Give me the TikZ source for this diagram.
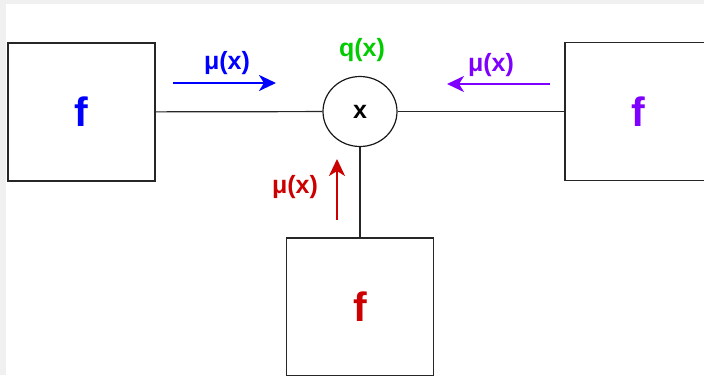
\documentclass[tikz,border=0pt]{standalone}
\usepackage{fontspec}
\setmainfont{Liberation Sans}
\usetikzlibrary{shapes.geometric,arrows.meta}
\definecolor{fblue}{HTML}{0000FF}
\definecolor{fpurple}{HTML}{7F00FF}
\definecolor{fgreen}{HTML}{00CC00}
\definecolor{fred}{HTML}{CC0000}
\definecolor{bggray}{HTML}{F0F0F0}
\tikzset{
  factor/.style={draw=black!85, line width=1.3pt, fill=white, minimum width=147pt, minimum height=138pt, inner sep=0pt, font=\fontsize{41}{41}\selectfont\bfseries},
  var/.style={ellipse, draw=black!90, line width=1.2pt, fill=white, minimum width=74pt, minimum height=70pt, inner sep=0pt, font=\fontsize{25}{25}\selectfont\bfseries},
  msg/.style={font=\fontsize{25}{25}\selectfont\bfseries, inner sep=0pt},
  msgarrow/.style={line width=2.6pt, -{Stealth[length=17pt,width=16pt,inset=5pt]}},
  edge/.style={line width=1.2pt, draw=black!85}
}
\begin{document}
\begin{tikzpicture}[x=1pt,y=-1pt]
\useasboundingbox (0,0) rectangle (704,375);
\clip (0,0) rectangle (704,375);
\fill[bggray] (0,0) rectangle (704,375);
\fill[white] (6,4) rectangle (704,375);
% factor nodes and the variable
\node[var] (x) at (360,111.5) {x};
\node[factor, text=fblue] (fleft) at (81.5,112) {f};
\node[factor, text=fpurple] (fright) at (638.5,111.5) {f};
\node[factor, text=fred] (fbottom) at (360,307) {f};
\draw[edge] (fleft) -- (x);
\draw[edge] (x) -- (fright);
\draw[edge] (x) -- (fbottom);
% messages
\node[msg, text=fgreen] (qx) at (362,50) {q(x)};
\node[msg, text=fblue] (mleft) at (227,63) {μ(x)};
\node[msg, text=fpurple] (mright) at (491,65) {μ(x)};
\node[msg, text=fred] (mbottom) at (295,187) {μ(x)};
\coordinate (bl0) at (173,83);
\coordinate (bl1) at (276,83);
\coordinate (pr0) at (550,84);
\coordinate (pr1) at (447,84);
\coordinate (rd0) at (337,220);
\coordinate (rd1) at (337,159);
\draw[msgarrow, fblue] (bl0) -- (bl1);
\draw[msgarrow, fpurple] (pr0) -- (pr1);
\draw[msgarrow, fred] (rd0) -- (rd1);
\end{tikzpicture}
\end{document}
